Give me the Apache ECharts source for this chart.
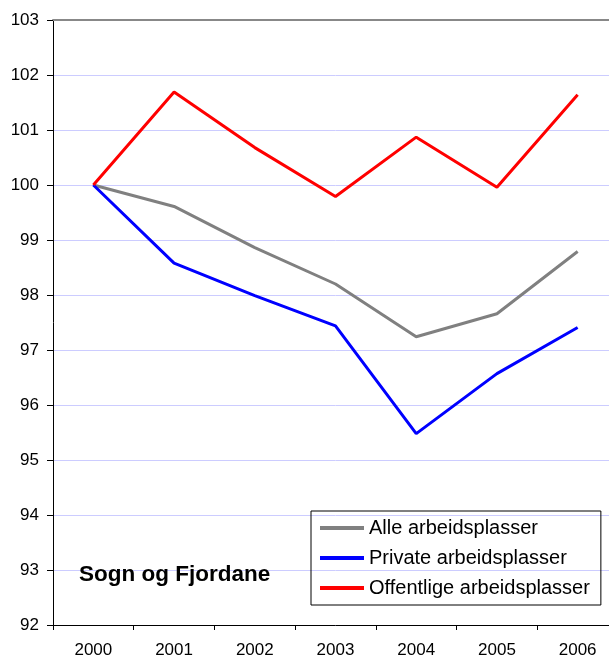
<!DOCTYPE html>
<html>
<head>
<meta charset="utf-8">
<script src="https://cdn.jsdelivr.net/npm/echarts@6/dist/echarts.min.js"></script>
<style>
  html, body { margin: 0; padding: 0; background: #fff; }
  /* plot area runs a few px past the right edge, like the original; wrapper clips it */
  #wrap { position: relative; width: 609px; height: 657px; overflow: hidden; }
  #chart { position: absolute; left: 0; top: 0; width: 622px; height: 657px; }
</style>
</head>
<body>
<div id="wrap"><div id="chart"></div></div>
<script>
// years on the x axis
const years = ['2000', '2001', '2002', '2003', '2004', '2005', '2006']
// index, 2000 = 100
const alle = [100, 99.61, 98.86, 98.2, 97.24, 97.66, 98.79]
const privat = [100, 98.58, 97.99, 97.44, 95.48, 96.57, 97.41]
const offentlig = [100, 101.69, 100.68, 99.79, 100.87, 99.96, 101.64]
const seriesNames = ['Alle arbeidsplasser', 'Private arbeidsplasser', 'Offentlige arbeidsplasser']

const font = 'Liberation Sans, Arial, sans-serif'
const chart = echarts.init(document.getElementById('chart'))

function lineSeries (name, data, color) {
  return {
    name: name,
    type: 'line',
    data: data,
    symbol: 'none',
    color: color,
    lineStyle: { width: 3, color: color },
    animation: false
  }
}

const option = {
  backgroundColor: '#fff',
  title: {
    text: 'Sogn og Fjordane',
    left: 79,
    top: 563,
    padding: 0,
    textStyle: { fontFamily: font, fontSize: 22.5, fontWeight: 'bold', color: '#000' }
  },
  legend: {
    orient: 'vertical',
    left: 311,
    top: 511,
    data: seriesNames,
    icon: 'rect',
    itemWidth: 44,
    itemHeight: 4,
    itemGap: 10,
    padding: [7, 11, 7, 9],
    borderColor: '#000',
    borderWidth: 1,
    textStyle: { fontFamily: font, fontSize: 20, color: '#000', lineHeight: 20 }
  },
  grid: { left: 53, top: 20, width: 565, height: 605, outerBoundsMode: 'none' },
  xAxis: [{
    type: 'category',
    data: years,
    boundaryGap: true,
    axisLine: { lineStyle: { color: '#000', width: 1 } },
    axisTick: { show: true, length: 5, lineStyle: { color: '#000' } },
    axisLabel: { fontFamily: font, fontSize: 17, color: '#000', margin: 17 },
    splitLine: { show: false }
  }, {
    type: 'category',
    data: years,
    position: 'top',
    axisLine: { lineStyle: { color: '#888', width: 2 } },
    axisTick: { show: false },
    axisLabel: { show: false }
  }],
  yAxis: {
    type: 'value',
    min: 92,
    max: 103,
    interval: 1,
    axisLine: { show: true, lineStyle: { color: '#000', width: 1 } },
    axisTick: { show: true, length: 6, lineStyle: { color: '#000' } },
    axisLabel: { fontFamily: font, fontSize: 17, color: '#000', margin: 14 },
    splitLine: { show: true, lineStyle: { color: '#ccccff', width: 1 } }
  },
  series: [
    lineSeries(seriesNames[0], alle, '#808080'),
    lineSeries(seriesNames[1], privat, '#0000ff'),
    lineSeries(seriesNames[2], offentlig, '#ff0000')
  ]
}

chart.setOption(option)
window.addEventListener('resize', function () {
  chart.resize()
})
</script>
</body>
</html>
